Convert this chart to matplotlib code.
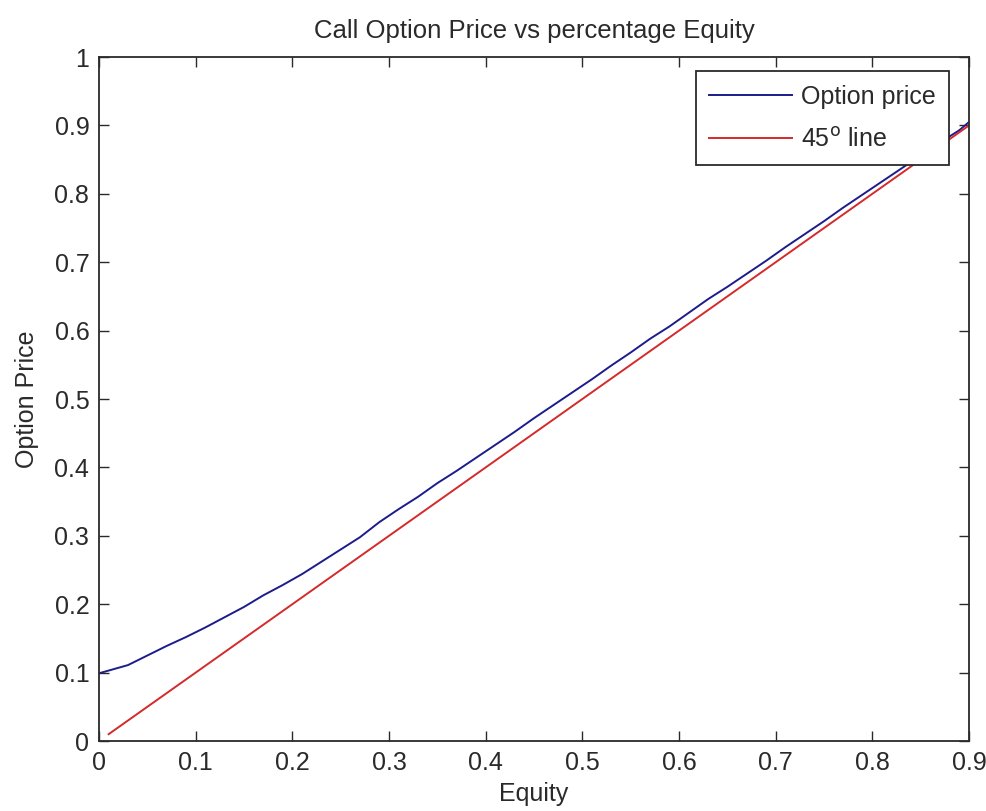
import matplotlib
matplotlib.use("Agg")
import matplotlib.pyplot as plt

# --------- Data ---------
equity = [0.01, 0.03, 0.05, 0.07, 0.09, 0.11, 0.13, 0.15, 0.17, 0.19,
          0.21, 0.23, 0.25, 0.27, 0.29, 0.31, 0.33, 0.35, 0.37, 0.39,
          0.41, 0.43, 0.45, 0.47, 0.49, 0.51, 0.53, 0.55, 0.57, 0.59,
          0.61, 0.63, 0.65, 0.67, 0.69, 0.71, 0.73, 0.75, 0.77, 0.79,
          0.81, 0.83, 0.85, 0.87, 0.89, 0.90]
option_x = [0.0] + equity[1:]
option_price = [0.099, 0.111, 0.125, 0.139, 0.152, 0.166, 0.181, 0.196, 0.213, 0.228,
                0.244, 0.262, 0.280, 0.298, 0.320, 0.339, 0.357, 0.377, 0.395, 0.414,
                0.433, 0.452, 0.472, 0.491, 0.510, 0.529, 0.549, 0.568, 0.588, 0.606,
                0.626, 0.646, 0.664, 0.683, 0.702, 0.722, 0.741, 0.760, 0.780, 0.799,
                0.818, 0.837, 0.856, 0.875, 0.893, 0.905]
line_45 = list(equity)  # 45 degree reference line

xticks = [0, 0.1, 0.2, 0.3, 0.4, 0.5, 0.6, 0.7, 0.8, 0.9]
yticks = [0, 0.1, 0.2, 0.3, 0.4, 0.5, 0.6, 0.7, 0.8, 0.9, 1]
xticklabels = ["0", "0.1", "0.2", "0.3", "0.4", "0.5", "0.6", "0.7", "0.8", "0.9"]
yticklabels = ["0", "0.1", "0.2", "0.3", "0.4", "0.5", "0.6", "0.7", "0.8", "0.9", "1"]

# --------- Style ---------
plt.rcParams["font.family"] = ["Liberation Sans", "DejaVu Sans"]
FS = 18
TXT = "#2a2a2a"

fig = plt.figure(figsize=(9.87, 8.11), dpi=100)
ax = fig.add_axes([0.1003, 0.0863, 0.8815, 0.8434])

ax.plot(option_x, option_price, color="#1c1c8c", lw=1.4, label="Option price")
ax.plot(equity, line_45, color="#d42a2a", lw=1.4, label="45$^{\\rm o}$ line")

ax.set_xlim(0, 0.9)
ax.set_ylim(0, 1)
ax.set_xticks(xticks)
ax.set_xticklabels(xticklabels)
ax.set_yticks(yticks)
ax.set_yticklabels(yticklabels)
ax.tick_params(direction="in", length=7, width=1, top=True, right=True,
               labelsize=FS, labelcolor=TXT, color=TXT, pad=7)
for s in ax.spines.values():
    s.set_linewidth(1.3)
    s.set_color(TXT)

ax.set_title("Call Option Price vs percentage Equity", fontsize=18.5, color=TXT, pad=14)
ax.set_xlabel("Equity", fontsize=FS, color=TXT, labelpad=5)
ax.set_ylabel("Option Price", fontsize=FS, color=TXT, labelpad=11)

leg = ax.legend(loc="upper right", bbox_to_anchor=(0.977, 0.9795), borderaxespad=0,
                fontsize=FS, frameon=True, fancybox=False,
                edgecolor=TXT, framealpha=1,
                handlelength=3.3, handletextpad=0.35, borderpad=0.55, labelspacing=0.75)
leg.get_frame().set_linewidth(1.3)
for t in leg.get_texts():
    t.set_color(TXT)

fig.savefig("out.png", dpi=100, facecolor="white")
